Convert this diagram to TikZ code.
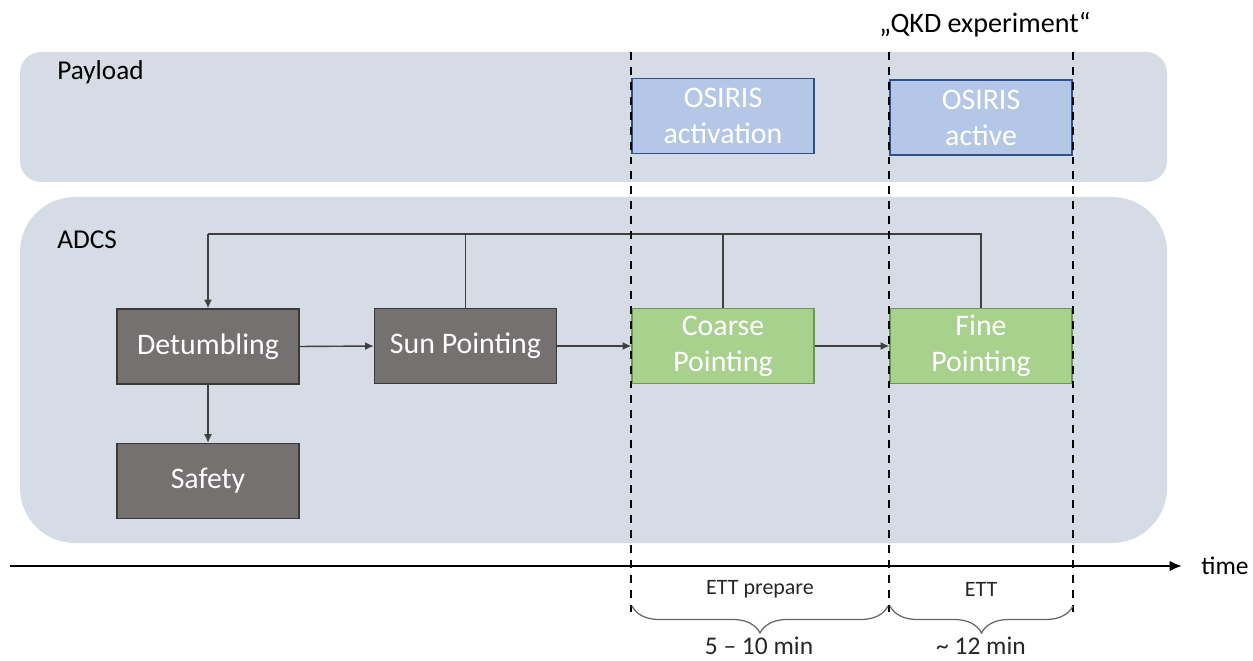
\documentclass[tikz,border=0pt]{standalone}
\usepackage{fontspec}
\setmainfont{Carlito}
\usetikzlibrary{arrows.meta,decorations.pathreplacing}
\definecolor{bandc}{HTML}{D6DCE5}
\definecolor{bluef}{HTML}{B4C7E7}
\definecolor{blued}{HTML}{2F528F}
\definecolor{grayf}{HTML}{767171}
\definecolor{grayd}{HTML}{3B3838}
\definecolor{greenf}{HTML}{A9D18E}
\definecolor{greend}{HTML}{6A9A4C}
\definecolor{connc}{HTML}{404040}
\begin{document}
\begin{tikzpicture}[x=0.02cm,y=-0.02cm,
  box/.style={draw, line width=0.7pt, minimum width=3.64cm, minimum height=1.5cm, inner sep=0pt,
    text=white, align=center, font=\fontsize{17}{20.5}\selectfont},
  graybox/.style={box, fill=grayf, draw=grayd},
  greenbox/.style={box, fill=greenf, draw=greend},
  bluebox/.style={box, fill=bluef, draw=blued},
  conn/.style={draw=connc, line width=0.8pt},
  arr/.style={conn, -{Latex[length=5pt,width=4.5pt]}},
  vdash/.style={draw=black, line width=1.2pt, dash pattern=on 4.5pt off 4pt},
  lbl/.style={font=\fontsize{15.5}{18}\selectfont, text=black, inner sep=0pt},
  br/.style={draw=connc!80, line width=0.7pt, decorate, decoration={brace, mirror, amplitude=0.54cm}}
]
\useasboundingbox (0,0) rectangle (1253,661);
% bands
\fill[bandc, rounded corners=0.42cm] (20,52) rectangle (1167,182);
\fill[bandc, rounded corners=1.1cm] (20,197) rectangle (1167,543);
\node[lbl, anchor=west] (payload) at (57,72) {Payload};
\node[lbl, anchor=west] (adcs) at (57,240) {ADCS};
% payload boxes
\node[bluebox] (osact) at (723,116) {OSIRIS\\activation};
\node[bluebox] (osactive) at (981,117.5) {OSIRIS\\active};
% ADCS boxes
\node[graybox] (det) at (208,346.5) {Detumbling};
\node[graybox] (sun) at (465.5,346) {Sun Pointing};
\node[graybox] (safe) at (208,481) {Safety};
\node[greenbox] (coarse) at (723,346) {Coarse\\Pointing};
\node[greenbox] (fine) at (981,346) {Fine\\Pointing};
% connectors
\coordinate (topL) at (208,234);
\draw[conn] (fine.north) |- (topL);
\draw[conn] (sun.north) -- (sun.north |- topL);
\draw[conn] (coarse.north) -- (coarse.north |- topL);
\draw[arr] (topL) -- (det.north);
\draw[arr] (det.east) -- (sun.west);
\draw[arr] (sun.east) -- (coarse.west);
\draw[arr] (coarse.east) -- (fine.west);
\draw[arr] (det.south) -- (safe.north);
% dashed lines
\coordinate (d1t) at (631,52); \coordinate (d1b) at (631,616);
\coordinate (d2t) at (889,52); \coordinate (d2b) at (889,616);
\coordinate (d3t) at (1073,52); \coordinate (d3b) at (1073,616);
\draw[vdash] (d1t) -- (d1b);
\draw[vdash] (d2t) -- (d2b);
\draw[vdash] (d3t) -- (d3b);
% QKD label
\node[lbl, font=\fontsize{16}{19}\selectfont] (qkd) at (985,25) {„QKD experiment“};
% time axis
\coordinate (tA) at (10,566);
\coordinate (tB) at (1182,566);
\draw[line width=1.3pt, -{Latex[length=7pt,width=6pt]}] (tA) -- (tB);
\node[lbl, font=\fontsize{14.5}{17}\selectfont, anchor=west] (time) at (1201,566) {time};
% braces
\coordinate (b1a) at (632,606); \coordinate (b1b) at (888,606);
\coordinate (b2a) at (890,606); \coordinate (b2b) at (1073,606);
\draw[br] (b1a) -- (b1b);
\draw[br] (b2a) -- (b2b);
\node[lbl, font=\fontsize{12.5}{15}\selectfont, text=black!85] (ettp) at (760,589) {ETT prepare};
\node[lbl, font=\fontsize{12.5}{15}\selectfont, text=black!85] (ett) at (981,589) {ETT};
\node[lbl, font=\fontsize{14.5}{17}\selectfont, text=black!85] (t1) at (759,646) {5 – 10 min};
\node[lbl, font=\fontsize{14.5}{17}\selectfont, text=black!85] (t2) at (981,646) {\textasciitilde{} 12 min};
\end{tikzpicture}
\end{document}
